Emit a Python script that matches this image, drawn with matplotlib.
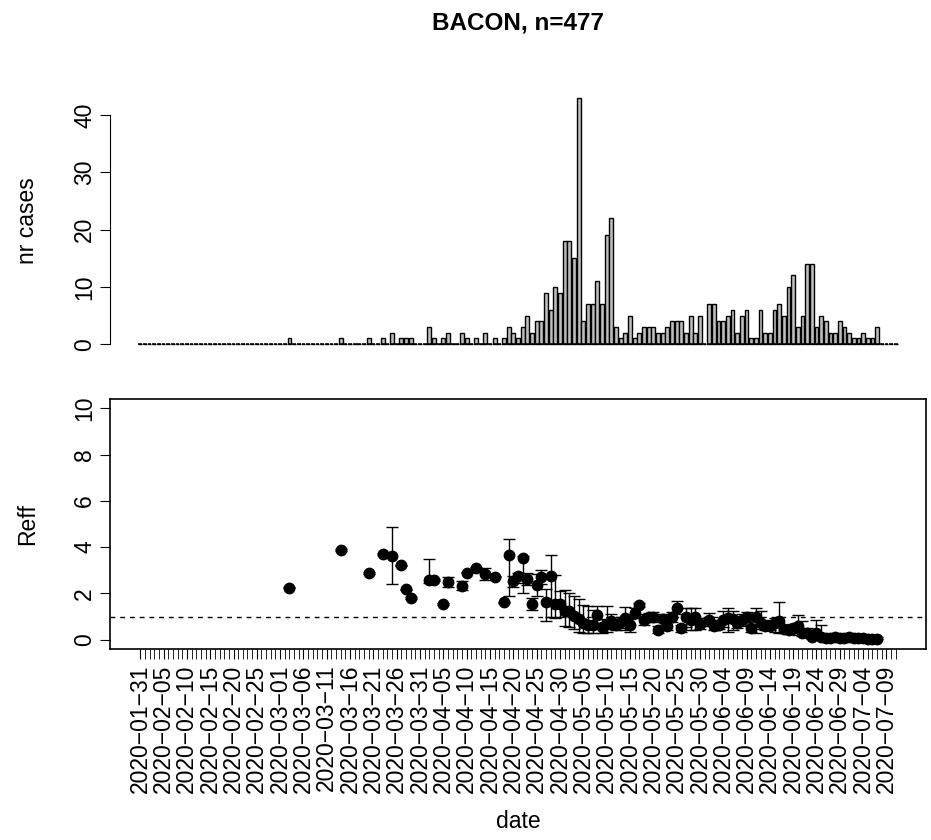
import datetime as dt

import matplotlib
matplotlib.use("Agg")
import matplotlib.pyplot as plt
import numpy as np

plt.rcParams["font.family"] = ["Liberation Sans", "DejaVu Sans"]
plt.rcParams["axes.unicode_minus"] = True

first_day = dt.date(2020, 1, 31)
n_days = 163

# daily case counts, one value per day starting 2020-01-31
cases = [
    0, 0, 0, 0, 0, 0, 0, 0, 0, 0,
    0, 0, 0, 0, 0, 0, 0, 0, 0, 0,
    0, 0, 0, 0, 0, 0, 0, 0, 0, 0,
    0, 0, 1, 0, 0, 0, 0, 0, 0, 0,
    0, 0, 0, 1, 0, 0, 0, 0, 0, 1,
    0, 0, 1, 0, 2, 0, 1, 1, 1, 0,
    0, 0, 3, 1, 0, 1, 2, 0, 0, 2,
    1, 0, 1, 0, 2, 0, 1, 0, 1, 3,
    2, 1, 3, 5, 2, 4, 4, 9, 6, 10,
    9, 18, 18, 15, 43, 4, 7, 7, 11, 7,
    19, 22, 3, 1, 2, 5, 1, 2, 3, 3,
    3, 2, 2, 3, 4, 4, 4, 2, 5, 2,
    5, 0, 7, 7, 4, 4, 5, 6, 2, 5,
    6, 1, 1, 6, 2, 2, 6, 7, 5, 10,
    12, 3, 5, 14, 14, 3, 5, 4, 2, 2,
    4, 3, 2, 1, 1, 2, 1, 1, 3, 0,
    0, 0, 0,
]

# Reff estimate per day (day offset from first_day), with interval
reff_day = [32, 43, 49, 52, 54, 56, 57, 58, 62, 63, 65, 66, 69, 70, 72, 74, 76, 78,
            79, 80, 81, 82, 83, 84, 85, 86, 87, 88, 89, 90,
            91, 92, 93, 94, 95, 96, 97, 98, 99, 100,
            101, 102, 103, 104, 105, 106, 107, 108, 109, 110,
            111, 112, 113, 114, 115, 116, 117, 118, 119, 120,
            122, 123, 124, 125, 126, 127, 128, 129, 130,
            131, 132, 133, 134, 135, 136, 137, 138, 139, 140,
            141, 142, 143, 144, 145, 146, 147, 148, 149, 150,
            151, 152, 153, 154, 155, 156, 157, 158]
reff_mid = [2.25, 3.88, 2.88, 3.70, 3.60, 3.22, 2.18, 1.80, 2.58, 2.58, 1.55, 2.50, 2.32, 2.90, 3.10, 2.85, 2.72, 1.62,
            3.65, 2.55, 2.75, 3.52, 2.62, 1.55, 2.38, 2.72, 1.65, 2.75, 1.55, 1.55,
            1.23, 1.23, 1.04, 0.89, 0.72, 0.65, 0.62, 1.05, 0.55, 0.68,
            0.80, 0.62, 0.75, 0.92, 0.62, 1.15, 1.50, 0.87, 0.98, 0.98,
            0.43, 0.89, 0.58, 0.98, 1.37, 0.50, 0.98, 0.87, 0.98, 0.70,
            0.87, 0.58, 0.65, 0.87, 0.94, 0.89, 0.72, 0.87, 0.98,
            0.50, 0.98, 0.72, 0.58, 0.61, 0.72, 0.79, 0.46, 0.43, 0.50,
            0.58, 0.29, 0.29, 0.14, 0.29, 0.10, 0.08, 0.06, 0.10, 0.08,
            0.08, 0.10, 0.06, 0.06, 0.08, 0.05, 0.05, 0.05]
reff_lo = [2.22, 3.85, 2.85, 3.67, 2.40, 3.19, 2.15, 1.77, 2.45, 2.55, 1.52, 2.28, 2.13, 2.87, 3.07, 2.60, 2.69, 1.59,
           1.90, 2.30, 2.45, 2.00, 2.35, 1.30, 1.90, 2.40, 0.80, 1.00, 0.95, 1.00,
           0.58, 0.55, 0.45, 0.35, 0.30, 0.28, 0.29, 0.55, 0.30, 0.35,
           0.45, 0.40, 0.50, 0.40, 0.35, 0.95, 1.40, 0.65, 0.80, 0.75,
           0.30, 0.55, 0.40, 0.75, 1.10, 0.35, 0.55, 0.40, 0.40, 0.45,
           0.60, 0.40, 0.45, 0.55, 0.35, 0.40, 0.50, 0.60, 0.75,
           0.35, 0.30, 0.45, 0.40, 0.40, 0.35, 0.30, 0.30, 0.25, 0.30,
           0.20, 0.15, 0.15, 0.05, 0.10, 0.05, 0.04, 0.03, 0.05, 0.04,
           0.04, 0.05, 0.03, 0.03, 0.04, 0.02, 0.02, 0.02]
reff_hi = [2.28, 3.91, 2.91, 3.73, 4.85, 3.25, 2.21, 1.83, 3.48, 2.61, 1.58, 2.70, 2.52, 2.93, 3.13, 3.08, 2.75, 1.65,
           4.35, 2.75, 2.90, 3.62, 2.90, 1.80, 2.85, 3.00, 2.20, 3.68, 2.80, 2.10,
           2.14, 2.02, 1.88, 1.77, 1.52, 1.44, 1.30, 1.47, 0.90, 1.47,
           1.10, 0.85, 1.00, 1.41, 0.90, 1.35, 1.60, 1.10, 1.15, 1.20,
           0.60, 1.10, 0.80, 1.20, 1.66, 0.65, 1.37, 1.37, 1.37, 0.95,
           1.15, 0.80, 0.85, 1.23, 1.37, 1.23, 0.95, 1.10, 1.20,
           0.65, 1.39, 1.23, 0.80, 0.85, 0.92, 1.62, 0.65, 0.60, 0.70,
           1.07, 0.79, 0.50, 0.30, 0.84, 0.65, 0.15, 0.12, 0.20, 0.15,
           0.15, 0.20, 0.12, 0.12, 0.15, 0.10, 0.10, 0.10]

title = "BACON, n=477"

W, H = 931, 840
fig = plt.figure(figsize=(W / 100, H / 100), dpi=100)
fig.patch.set_facecolor("white")

left, right = 110, 926
ax_top = fig.add_axes([left / W, (H - 354) / H, (right - left) / W, (354 - 88) / H])
ax_bot = fig.add_axes([left / W, (H - 649) / H, (right - left) / W, (649 - 399) / H])

days = np.arange(n_days)
xlim = (-0.04 * (n_days - 1), (n_days - 1) * 1.04)
fs = 16.5
bw = 0.83

# top: daily counts (zero days show as a flat segment, like R's barplot)
ax_top.hlines(np.zeros(n_days), days - bw / 2, days + bw / 2, color="black", lw=1.1)
ax_top.bar(days, cases, width=bw, color="#bebebe", edgecolor="black", linewidth=1.0)
ax_top.set_xlim(xlim)
ymax = max(cases)
ax_top.set_ylim(-0.04 * ymax, ymax * 1.04)
for s in ["top", "right", "bottom"]:
    ax_top.spines[s].set_visible(False)
ax_top.spines["left"].set_bounds(0, 40)
ax_top.set_yticks([0, 10, 20, 30, 40])
ax_top.set_xticks([])
ax_top.tick_params(axis="y", labelrotation=90, labelsize=fs, length=7, pad=3)
for lab in ax_top.get_yticklabels():
    lab.set_va("center")
ax_top.set_ylabel("nr cases", fontsize=fs, va="center")
ax_top.yaxis.set_label_coords((28 - left) / (right - left), 0.5)
ax_top.set_title(title, fontsize=17.5, fontweight="bold", pad=42)

# bottom: Reff with intervals
mid = np.array(reff_mid)
err = [mid - np.array(reff_lo), np.array(reff_hi) - mid]
ax_bot.errorbar(reff_day, mid, yerr=err, fmt="o", color="black", ms=7.5,
                capsize=4.5, elinewidth=1.0, capthick=1.0)
ax_bot.axhline(1, color="black", lw=1.0, ls=(0, (3.5, 3.5)))
ax_bot.set_xlim(xlim)
ax_bot.set_ylim(-0.4, 10.4)
ax_bot.set_yticks([0, 2, 4, 6, 8, 10])
for s in ax_bot.spines.values():
    s.set_linewidth(1.2)

tick_days = days[::5][:33]
tick_labels = [(first_day + dt.timedelta(days=int(d))).strftime("%Y-%m-%d").replace("-", "\u2212")
               for d in tick_days]
ax_bot.set_xticks(tick_days)
ax_bot.set_xticklabels(tick_labels, rotation=90, fontsize=fs)
ax_bot.set_xticks(days, minor=True)
ax_bot.tick_params(axis="x", which="both", length=7, pad=4)
ax_bot.tick_params(axis="y", labelrotation=90, labelsize=fs, length=7, pad=3)
for lab in ax_bot.get_yticklabels():
    lab.set_va("center")
ax_bot.set_ylabel("Reff", fontsize=fs, va="center")
ax_bot.yaxis.set_label_coords((28 - left) / (right - left), 0.5)
ax_bot.set_xlabel("date", fontsize=fs)
ax_bot.xaxis.set_label_coords(0.5, (649 - 822) / (649 - 399))
ax_bot.xaxis.label.set_va("center")

fig.savefig("out.png", dpi=100)
